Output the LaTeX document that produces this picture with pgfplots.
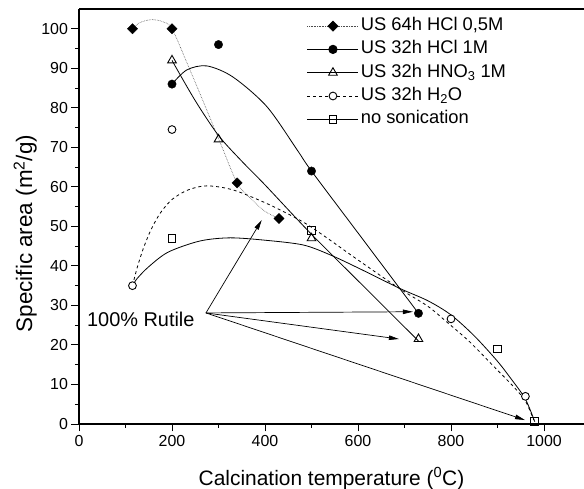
\documentclass[border=0pt]{standalone}
\usepackage{fontspec}
\setmainfont{Liberation Sans}
\usepackage{pgfplots}
\pgfplotsset{compat=1.18}
\usetikzlibrary{arrows.meta}

\begin{document}
\begin{tikzpicture}
\useasboundingbox (0,0) rectangle (584bp,489bp);
\begin{axis}[
    at={(79bp,65bp)}, anchor=south west,
    scale only axis, width=505bp, height=415bp,
    xmin=0, xmax=1086, ymin=0, ymax=105,
    axis x line=box, axis y line=left,
    axis line style={-, line width=1.2bp},
    xtick={0,200,...,1000}, ytick={0,10,...,100},
    minor x tick num=1, minor y tick num=1,
    xtick pos=left, ytick pos=left,
    tick align=outside,
    major tick length=7.5bp, minor tick length=4bp,
    every tick/.style={black, line width=1bp},
    scaled ticks=false,
    /pgf/number format/1000 sep={},
    /pgf/number format/assume math mode=true,
    ticklabel style={font=\fontsize{16}{16}\selectfont},
    every axis x label/.style={at={(axis description cs:0.5,-0.147)}, anchor=base},
    every axis y label/.style={at={(axis description cs:-0.093,0.459)}, anchor=base, rotate=90},
    xlabel={\fontsize{21}{21}\selectfont Calcination temperature (\textsuperscript{0}C)},
    ylabel={\fontsize{22.5}{22.5}\selectfont Specific area (m\textsuperscript{2}/g)},
    legend image code/.code={\draw[mark repeat=2,mark phase=2,#1] plot coordinates {(0bp,0bp)(25.5bp,0bp)(51bp,0bp)};},
    legend style={draw=none, fill=none, at={(axis cs:490,103)}, anchor=north west,
        font=\fontsize{18.4}{18.4}\selectfont, inner sep=0pt, row sep=5.3bp,
        nodes={inner sep=0pt, text height=13.5bp, text depth=4.5bp}, /tikz/column sep=2bp},
    legend cell align=left,
]
% legend entries
\addlegendimage{densely dotted, black!70, line width=0.6bp, mark=square*, mark options={solid, black, rotate=45, mark size=3.6bp}}
\addlegendentry{US 64h HCl 0,5M}
\addlegendimage{black, line width=0.8bp, mark=*, mark options={solid, mark size=4.2bp}}
\addlegendentry{US 32h HCl 1M}
\addlegendimage{black, line width=0.8bp, mark=triangle, mark options={solid, line width=0.9bp, mark size=5bp}}
\addlegendentry{US 32h HNO\textsubscript{3} 1M}
\addlegendimage{black, dashed, line width=0.8bp, mark=*, mark options={solid, fill=white, line width=0.9bp, mark size=3.9bp}}
\addlegendentry{US 32h H\textsubscript{2}O}
\addlegendimage{black, line width=0.8bp, mark=square, mark options={solid, line width=0.9bp, mark size=3.8bp}}
\addlegendentry{no sonication}

% fitted curves
\addplot[forget plot, densely dotted, black!70, line width=0.6bp, smooth] coordinates {
  (115,100)(130,101.5)(155,102.3)(180,101.8)(200,100)(235,90.6)(270,80.8)(305,70.8)(340,61)(368,57.2)(400,53.8)(430,52)};
\addplot[forget plot, black, line width=0.8bp, smooth] coordinates {
  (200,86)(232,89.6)(275,90.6)(331,87.8)(404,80.3)(470,69.2)(500,64)(615,46)(730,28)};
\addplot[forget plot, black, line width=0.8bp, smooth] coordinates {
  (200,92)(250,81.8)(300,73)(350,66.5)(400,60.5)(500,48)(615,34.5)(730,21)};
\addplot[forget plot, black, dashed, line width=0.8bp, smooth] coordinates {
  (115,35)(125,39.5)(138,44.3)(155,49.2)(175,53.4)(200,56.8)(232,59.1)(267,60.2)(300,60)(340,58.9)(411,55.4)
  (482,51.1)(533,47.1)(600,41.5)(690,34.2)(750,29.8)(791,25.8)(840,20.8)(890,14.8)(934,9.5)(960,5.8)(978,1)};
\addplot[forget plot, black, line width=0.8bp, smooth] coordinates {
  (115,35)(125,36.8)(150,39.8)(192,43.5)(260,46.3)(325,47.1)(400,46.5)(482,45.3)(540,42.8)
  (600,39.5)(690,34.3)(750,31.2)(800,27.6)(850,22.3)(899,16)(930,11.3)(960,6.3)(980,0.6)};

% measured points
\addplot[forget plot, only marks, mark=square*, mark options={black, rotate=45, mark size=3.6bp}] coordinates {
  (115,100)(200,100)(340,61)(430,52)};
\addplot[forget plot, only marks, mark=*, mark options={black, mark size=4.2bp}] coordinates {
  (200,86)(300,96)(500,64)(730,28)};
\addplot[forget plot, only marks, mark=triangle, mark options={black, line width=0.9bp, mark size=5bp}] coordinates {
  (200,92)(300,72)(500,47)(730,21.5)};
\addplot[forget plot, only marks, mark=*, mark options={draw=black, fill=white, line width=0.9bp, mark size=3.9bp}] coordinates {
  (115,35)(200,74.5)(800,26.6)(960,7)};
\addplot[forget plot, only marks, mark=square, mark options={black, line width=0.9bp, mark size=3.8bp}] coordinates {
  (200,47)(500,49)(900,19)(980,0.6)};

% annotation
\node[anchor=base west, inner sep=0pt, font=\fontsize{20}{20}\selectfont] at (axis cs:17,24.6) {100\% Rutile};
\draw[-{Triangle[length=10bp,width=4.5bp]}, line width=0.7bp] (axis cs:273,28.1) -- (axis cs:393,51.6);
\draw[-{Triangle[length=10bp,width=4.5bp]}, line width=0.7bp] (axis cs:273,28.1) -- (axis cs:718,28.4);
\draw[-{Triangle[length=10bp,width=4.5bp]}, line width=0.7bp] (axis cs:273,28.1) -- (axis cs:688,21.5);
\draw[-{Triangle[length=10bp,width=4.5bp]}, line width=0.7bp] (axis cs:273,28.1) -- (axis cs:959,1);
\end{axis}
\end{tikzpicture}
\end{document}
